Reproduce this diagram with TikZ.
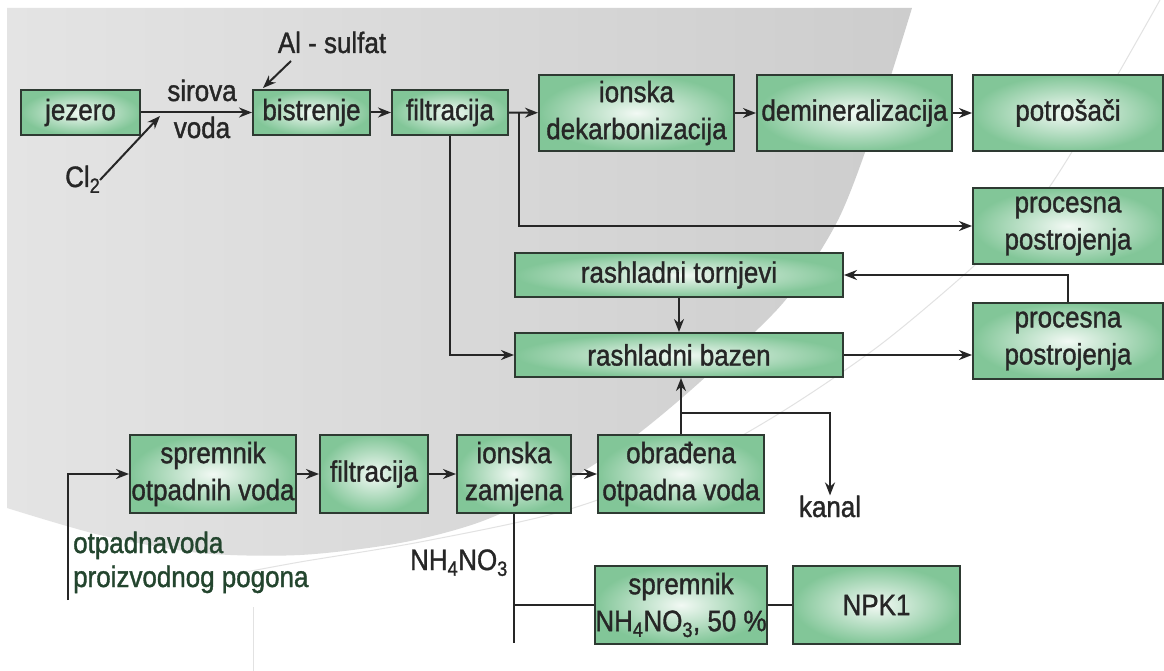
\documentclass[tikz,border=0pt]{standalone}
\usepackage{fontspec}
\setmainfont{Liberation Sans}[FakeStretch=0.88,FakeBold=1.2]
\usetikzlibrary{arrows.meta}
\definecolor{txt}{HTML}{262626}
\definecolor{edge}{HTML}{2E3A32}
\definecolor{boxout}{HTML}{82C698}
\definecolor{boxin}{HTML}{F2F9F4}
\definecolor{bgl}{HTML}{E4E4E4}
\definecolor{bgr}{HTML}{CDCDCD}
\definecolor{otgreen}{HTML}{23452E}
\definecolor{faint}{HTML}{E2E2E2}
\begin{document}
\begin{tikzpicture}[x=1pt,y=-1pt,
  font=\fontsize{29.5}{37}\selectfont,
  box/.style={draw=edge, line width=2pt, inner sep=0pt, align=center, text=txt,
              inner color=boxin, outer color=boxout},
  arr/.style={draw=txt, line width=2pt, -{Stealth[length=13pt,width=10pt]}},
  ln/.style={draw=txt, line width=2pt},
  lbl/.style={inner sep=0pt, text=txt}]
\useasboundingbox (0,0) rectangle (1164,671);
\fill[white] (0,0) rectangle (1164,671);
% background shape
\shade[left color=bgl, right color=bgr] (7,8) -- plot[smooth] coordinates {(912,8) (878,115) (838,220) (783,303) (700,382) (630,440) (560,485) (480,522) (400,543) (300,555) (200,553) (100,535) (7,508)} -- cycle;
\draw[faint, line width=1pt] plot[smooth] coordinates {(1160,0) (1100,105) (1040,200) (975,265) (880,345) (780,413) (680,468) (560,512) (420,542) (300,562) (230,575)};
\draw[faint, line width=1pt] (253,607) -- (253,671);

% boxes
\node[box, minimum width=119pt, minimum height=45pt] (jez) at (80.5,112.5) {jezero};
\node[box, minimum width=117pt, minimum height=45pt] (bis) at (311.5,112.5) {bistrenje};
\node[box, minimum width=116pt, minimum height=45pt] (fil1) at (450,112.5) {filtracija};
\node[box, minimum width=195pt, minimum height=76pt] (ion) at (636.5,113) {ionska\\dekarbonizacija};
\node[box, minimum width=195pt, minimum height=76pt] (dem) at (854.5,113) {demineralizacija};
\node[box, minimum width=190pt, minimum height=76pt] (pot) at (1068,113) {potrošači};
\node[box, minimum width=190pt, minimum height=76pt] (pp1) at (1068,226) {procesna\\postrojenja};
\node[box, minimum width=328pt, minimum height=44pt] (tor) at (679,275) {rashladni tornjevi};
\node[box, minimum width=328pt, minimum height=44pt] (baz) at (679,355) {rashladni bazen};
\node[box, minimum width=190pt, minimum height=76pt] (pp2) at (1068,341) {procesna\\postrojenja};
\node[box, minimum width=166pt, minimum height=78pt] (spr) at (213,474) {spremnik\\otpadnih voda};
\node[box, minimum width=108pt, minimum height=78pt] (fil2) at (374,474) {filtracija};
\node[box, minimum width=114pt, minimum height=78pt] (iz) at (514,474) {ionska\\zamjena};
\node[box, minimum width=166pt, minimum height=78pt] (obr) at (681,474) {obrađena\\otpadna voda};
\node[box, minimum width=166pt, minimum height=78pt] (snh) at (681,605) {spremnik\\NH\textsubscript{4}NO\textsubscript{3}, 50 \%};
\node[box, minimum width=167pt, minimum height=78pt] (npk) at (876.5,605) {NPK1};

% labels
\node[lbl, anchor=base] (sir) at (202,101) {sirova};
\node[lbl, anchor=base] (vod) at (202,138) {voda};
\node[lbl, anchor=base west] (cl) at (65,187) {Cl\textsubscript{2}};
\node[lbl, anchor=base] (al) at (332,53) {Al - sulfat};
\node[lbl, anchor=base] (kan) at (830,517) {kanal};
\node[lbl, anchor=base east] (nh) at (508,570) {NH\textsubscript{4}NO\textsubscript{3}};
\node[lbl, anchor=base west, text=otgreen] (otp1) at (73,553) {otpadnavoda};
\node[lbl, anchor=base west, text=otgreen] (otp2) at (73,587) {proizvodnog pogona};

% coordinates
\coordinate (clS) at (100,180);
\coordinate (clT) at (160,116);
\coordinate (alS) at (291,61);
\coordinate (alT) at (263,88);
\coordinate (j1) at (519,112.5);
\coordinate (j2) at (681,413);
\coordinate (o1) at (68,600);
\coordinate (o2) at (514,643);

% connectors
\draw[arr] (jez) -- (bis);
\draw[arr] (clS) -- (clT);
\draw[arr] (alS) -- (alT);
\draw[arr] (bis) -- (fil1);
\draw[arr] (fil1) -- (ion);
\draw[arr] (j1) |- (pp1.west);
\draw[arr] (fil1.south) |- (baz.west);
\draw[arr] (ion) -- (dem);
\draw[arr] (dem) -- (pot);
\draw[arr] (tor) -- (baz);
\draw[arr] (baz.east) -- (baz.east -| pp2.west);
\draw[arr] (pp2.north) |- (tor.east);
\draw[arr] (obr.north) -- (obr.north |- baz.south);
\draw[arr] (j2) -| (kan.north);
\draw[arr] (o1) |- (spr.west);
\draw[arr] (spr) -- (fil2);
\draw[arr] (fil2) -- (iz);
\draw[arr] (iz) -- (obr);
\draw[ln] (iz.south) -- (o2);
\draw[ln] (iz.south |- snh.west) -- (snh.west);
\draw[ln] (snh) -- (npk);
\end{tikzpicture}
\end{document}
